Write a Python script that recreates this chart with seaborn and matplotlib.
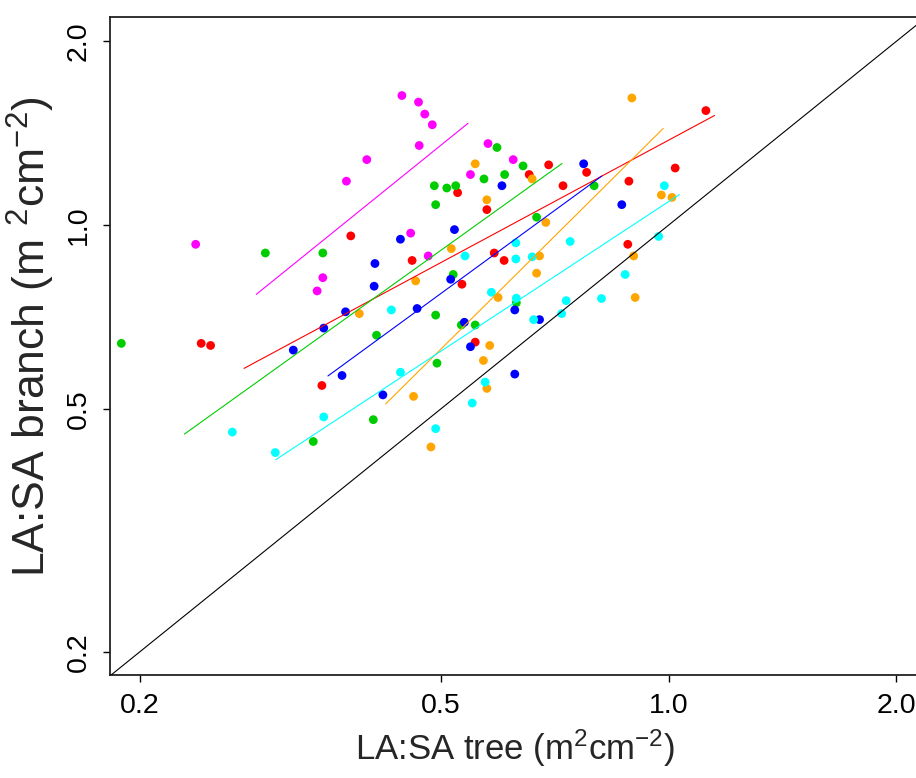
import numpy as np
import pandas as pd
import matplotlib
matplotlib.use("Agg")
import matplotlib.pyplot as plt
import seaborn as sns

# ---------------- data ----------------
magenta_x = [0.444, 0.467, 0.476, 0.487, 0.468, 0.399, 0.375, 0.237, 0.456, 0.349, 0.343, 0.577, 0.623, 0.547, 0.481]
magenta_y = [1.63, 1.59, 1.52, 1.46, 1.35, 1.28, 1.18, 0.93, 0.97, 0.82, 0.78, 1.36, 1.28, 1.21, 0.89]

red_x = [0.380, 0.458, 0.241, 0.248, 1.12, 0.694, 0.779, 0.654, 0.725, 0.886, 1.02, 0.526, 0.575, 0.588, 0.606, 0.883, 0.533, 0.555, 0.348]
red_y = [0.96, 0.875, 0.64, 0.635, 1.54, 1.255, 1.22, 1.21, 1.16, 1.18, 1.24, 1.13, 1.06, 0.90, 0.875, 0.93, 0.80, 0.643, 0.546]

green_x = [0.293, 0.349, 0.411, 0.189, 0.593, 0.642, 0.570, 0.607, 0.797, 0.490, 0.509, 0.523, 0.492, 0.669, 0.519, 0.629, 0.492, 0.532, 0.555, 0.494, 0.407, 0.339]
green_y = [0.90, 0.90, 0.66, 0.64, 1.34, 1.25, 1.19, 1.21, 1.16, 1.16, 1.15, 1.16, 1.08, 1.03, 0.83, 0.746, 0.712, 0.686, 0.686, 0.594, 0.48, 0.442]

blue_x = [0.442, 0.409, 0.408, 0.374, 0.465, 0.350, 0.319, 0.370, 0.772, 0.602, 0.867, 0.521, 0.515, 0.626, 0.675, 0.537, 0.547, 0.626, 0.419]
blue_y = [0.948, 0.865, 0.794, 0.721, 0.73, 0.678, 0.624, 0.567, 1.26, 1.16, 1.08, 0.983, 0.815, 0.726, 0.70, 0.693, 0.632, 0.57, 0.527]

orange_x = [0.463, 0.390, 0.894, 0.555, 0.660, 0.575, 0.978, 1.01, 0.688, 0.516, 0.675, 0.669, 0.899, 0.903, 0.595, 0.580, 0.569, 0.460, 0.575, 0.485]
orange_y = [0.81, 0.716, 1.615, 1.26, 1.19, 1.10, 1.12, 1.11, 1.01, 0.915, 0.89, 0.834, 0.89, 0.761, 0.761, 0.635, 0.60, 0.524, 0.54, 0.433]

cyan_x = [0.430, 0.442, 0.987, 0.628, 0.741, 0.538, 0.628, 0.660, 0.970, 0.876, 0.815, 0.583, 0.629, 0.732, 0.722, 0.663, 0.572, 0.550, 0.265, 0.350, 0.492, 0.302]
cyan_y = [0.726, 0.574, 1.16, 0.935, 0.94, 0.89, 0.88, 0.887, 0.958, 0.83, 0.758, 0.776, 0.759, 0.752, 0.716, 0.70, 0.553, 0.511, 0.458, 0.485, 0.464, 0.424]

groups = ["magenta", "red", "green", "blue", "orange", "cyan"]

# fitted group lines (start / end points)
fit_x0 = [0.285, 0.2746, 0.229, 0.3545, 0.4226, 0.3023]
fit_x1 = [0.543, 1.150, 0.7226, 0.8157, 0.9837, 1.033]
fit_y0 = [0.770, 0.5824, 0.4545, 0.566, 0.5093, 0.4126]
fit_y1 = [1.468, 1.512, 1.261, 1.203, 1.44, 1.122]

# 1:1 reference line
identity = [0.1, 3.0]

x_ticks = [0.2, 0.5, 1.0, 2.0]
y_ticks = [0.2, 0.5, 1.0, 2.0]
tick_labels = ["0.2", "0.5", "1.0", "2.0"]

palette = {"magenta": "#FF00FF", "red": "#FF0000", "green": "#00CD00",
           "blue": "#0000FF", "orange": "#FFA500", "cyan": "#00FFFF"}

# ---------------- build table ----------------
xs = {"magenta": magenta_x, "red": red_x, "green": green_x,
      "blue": blue_x, "orange": orange_x, "cyan": cyan_x}
ys = {"magenta": magenta_y, "red": red_y, "green": green_y,
      "blue": blue_y, "orange": orange_y, "cyan": cyan_y}
df = pd.concat([pd.DataFrame({"tree": xs[g], "branch": ys[g], "group": g}) for g in groups],
               ignore_index=True)
lines = pd.DataFrame({"group": groups, "x0": fit_x0, "x1": fit_x1, "y0": fit_y0, "y1": fit_y1})

# ---------------- plot ----------------
sns.set_style("ticks")
plt.rcParams["font.family"] = ["Liberation Sans", "DejaVu Sans"]
plt.rcParams["mathtext.fontset"] = "custom"
plt.rcParams["mathtext.rm"] = "Liberation Sans"
plt.rcParams["mathtext.it"] = "Liberation Sans:italic"
plt.rcParams["mathtext.bf"] = "Liberation Sans:bold"

W, H = 916, 778
fig = plt.figure(figsize=(W / 100, H / 100), dpi=100)
ax = fig.add_axes([110 / W, (H - 675.3) / H, (920 - 110) / W, (675.3 - 17) / H])

ax.set_xscale("log")
ax.set_yscale("log")

sns.scatterplot(data=df, x="tree", y="branch", hue="group", palette=palette,
                s=40, edgecolor="none", linewidth=0, legend=False, ax=ax, zorder=2)

for _, r in lines.iterrows():
    ax.plot([r.x0, r.x1], [r.y0, r.y1], color=palette[r.group], lw=0.8, zorder=3)

ax.plot(identity, identity, color="black", lw=0.8, zorder=3)

ax.set_xlim(0.1826, 2.149)
ax.set_ylim(0.1830, 2.192)

ax.xaxis.set_major_locator(matplotlib.ticker.FixedLocator(x_ticks))
ax.yaxis.set_major_locator(matplotlib.ticker.FixedLocator(y_ticks))
ax.xaxis.set_minor_locator(matplotlib.ticker.NullLocator())
ax.yaxis.set_minor_locator(matplotlib.ticker.NullLocator())
ax.set_xticklabels(tick_labels)
ax.set_yticklabels(tick_labels, rotation=90, va="center")

ax.tick_params(axis="both", direction="out", length=5, width=1.0, color="black",
               labelsize=20.5, pad=8, labelcolor="black")

for side in ["left", "bottom", "top"]:
    ax.spines[side].set_visible(True)
    ax.spines[side].set_color("#222222")
    ax.spines[side].set_linewidth(1.3)
ax.spines["right"].set_visible(False)

ax.set_xlabel(r"LA:SA tree (m$^{2}$cm$^{-2}$)", fontsize=25, labelpad=6)
ax.set_ylabel(r"LA:SA branch (m $^{2}$cm$^{-2}$)", fontsize=32)
ax.yaxis.set_label_coords(-0.066, 0.514)

fig.savefig("out.png", dpi=100)
